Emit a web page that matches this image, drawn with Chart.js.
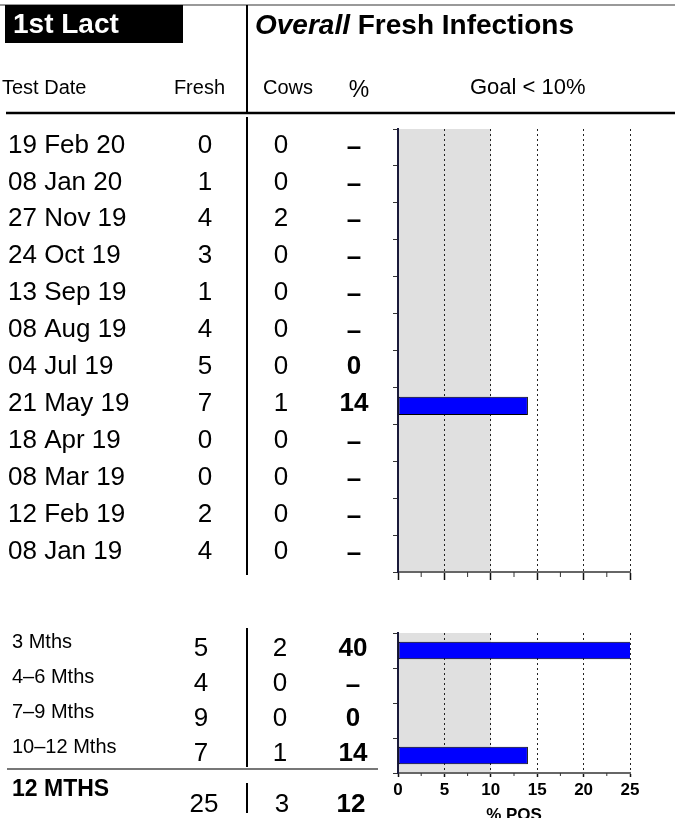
<!DOCTYPE html>
<html>
<head>
<meta charset="utf-8">
<script src="https://cdn.jsdelivr.net/npm/chart.js@4.4.1/dist/chart.umd.min.js"></script>
<style>
    body { margin: 0; background: #fff; overflow: hidden; width: 675px; height: 818px; position: relative; }
    canvas { position: absolute; left: 0; }
    #recentChart { top: 0; }
    #periodChart { top: 600px; }
</style>
</head>
<body>
<canvas id="recentChart" width="675" height="600"></canvas>
<canvas id="periodChart" width="675" height="240"></canvas>
<script>
// test dates (most recent first) and their counts
const testDates = ['19 Feb 20', '08 Jan 20', '27 Nov 19', '24 Oct 19', '13 Sep 19', '08 Aug 19',
    '04 Jul 19', '21 May 19', '18 Apr 19', '08 Mar 19', '12 Feb 19', '08 Jan 19'];
const freshCounts = [0, 1, 4, 3, 1, 4, 5, 7, 0, 0, 2, 4];
const infectedCows = [0, 0, 2, 0, 0, 0, 0, 1, 0, 0, 0, 0];
const pctPositive = [null, null, null, null, null, null, 0, 14, null, null, null, null];

// rolling periods
const periodLabels = ['3 Mths', '4–6 Mths', '7–9 Mths', '10–12 Mths'];
const periodFresh = [5, 4, 9, 7];
const periodCows = [2, 0, 0, 1];
const periodPct = [40, null, 0, 14];

const totalLabel = '12 MTHS';
const totalFresh = 25;
const totalCows = 3;
const totalPct = 12;

const goalPct = 10;
const axisMax = 25;
const axisStep = 5;

const FONT = '"Liberation Sans", Arial, sans-serif';
Chart.defaults.font.family = FONT;

function txt(ctx, s, x, y, font, align) {
    ctx.font = font + ' ' + FONT;
    ctx.textAlign = align || 'left';
    ctx.textBaseline = 'middle';
    ctx.fillStyle = '#000';
    ctx.fillText(s, x, y);
}

function line(ctx, x1, y1, x2, y2, color, width) {
    ctx.save();
    ctx.strokeStyle = color;
    ctx.lineWidth = width;
    ctx.beginPath();
    ctx.moveTo(x1, y1);
    ctx.lineTo(x2, y2);
    ctx.stroke();
    ctx.restore();
}

// shaded goal zone behind the grid
const goalBand = {
    id: 'goalBand',
    beforeDraw(chart) {
        const { ctx, chartArea, scales: { x } } = chart;
        const x0 = x.getPixelForValue(0);
        const x1 = x.getPixelForValue(goalPct);
        ctx.save();
        ctx.fillStyle = '#e0e0e0';
        ctx.fillRect(x0, chartArea.top, x1 - x0, chartArea.bottom - chartArea.top);
        ctx.restore();
    }
};

// small ticks half way between the labelled ones
const minorTicks = {
    id: 'minorTicks',
    afterDraw(chart, args, opts) {
        const { ctx, chartArea, scales: { x } } = chart;
        for (let v = axisStep / 2; v < axisMax; v += axisStep) {
            const px = x.getPixelForValue(v);
            line(ctx, px, chartArea.bottom, px, chartArea.bottom + opts.len, '#333', 1);
        }
    }
};

const recentTable = {
    id: 'recentTable',
    afterDraw(chart) {
        const { ctx, scales: { y } } = chart;
        // heading block
        line(ctx, 0, 5, 675, 5, '#999', 2);
        ctx.fillStyle = '#000';
        ctx.fillRect(5, 5, 178, 38);
        ctx.font = 'bold 28px ' + FONT;
        ctx.fillStyle = '#fff';
        ctx.textAlign = 'left';
        ctx.textBaseline = 'middle';
        ctx.fillText('1st Lact', 13, 25);
        line(ctx, 247, 5, 247, 113, '#000', 2);
        txt(ctx, 'Overall', 255, 26, 'italic bold 28px');
        const w = ctx.measureText('Overall ').width;
        txt(ctx, 'Fresh Infections', 255 + w, 26, 'bold 28px');

        txt(ctx, 'Test Date', 2, 88, '20px');
        txt(ctx, 'Fresh', 225, 88, '20px', 'right');
        txt(ctx, 'Cows', 263, 88, '20px');
        txt(ctx, '%', 359, 91, '23px', 'center');
        txt(ctx, 'Goal < ' + goalPct + '%', 470, 88, '22px');
        line(ctx, 6, 113, 675, 113, '#000', 2.5);
        line(ctx, 247, 117, 247, 575, '#000', 2);

        testDates.forEach((d, i) => {
            const cy = y.getPixelForValue(i) - 2;
            txt(ctx, d, 8, cy, '26px');
            txt(ctx, String(freshCounts[i]), 205, cy, '26px', 'center');
            txt(ctx, String(infectedCows[i]), 281, cy, '26px', 'center');
            const p = pctPositive[i];
            txt(ctx, p === null ? '–' : String(p), 354, p === null ? cy + 2 : cy, 'bold 26px', 'center');
        });
    }
};

const periodTable = {
    id: 'periodTable',
    afterDraw(chart) {
        const { ctx, scales: { y } } = chart;
        line(ctx, 247, 28, 247, 167, '#000', 2);
        line(ctx, 7, 169, 378, 169, '#777', 2);
        periodLabels.forEach((lbl, i) => {
            const cy = y.getPixelForValue(i);
            txt(ctx, lbl, 12, cy - 8, '20px');
            txt(ctx, String(periodFresh[i]), 201, cy - 2, '26px', 'center');
            txt(ctx, String(periodCows[i]), 280, cy - 2, '26px', 'center');
            const p = periodPct[i];
            txt(ctx, p === null ? '–' : String(p), 353, p === null ? cy : cy - 2, 'bold 26px', 'center');
        });
        txt(ctx, totalLabel, 12, 190, 'bold 23px');
        line(ctx, 247, 183, 247, 213, '#000', 2);
        txt(ctx, String(totalFresh), 204, 205, '26px', 'center');
        txt(ctx, String(totalCows), 282, 205, '26px', 'center');
        txt(ctx, String(totalPct), 351, 205, 'bold 26px', 'center');
    }
};

function barDataset(values) {
    return {
        data: values,
        backgroundColor: '#0000ff',
        borderColor: '#000',
        borderWidth: 1,
        borderSkipped: false,
        barPercentage: 0.5,
        categoryPercentage: 1
    };
}

function xScale(showLabels, tickLen, boxHeight) {
    return {
        min: 0,
        max: axisMax,
        ticks: {
            stepSize: axisStep,
            display: showLabels,
            color: '#000',
            padding: 3,
            font: { size: 17, weight: 'bold' }
        },
        grid: { color: '#222', lineWidth: 1, tickColor: '#111', tickLength: tickLen, tickWidth: 1.5 },
        border: { display: true, color: '#666', width: 2, dash: [2, 3] },
        title: {
            display: showLabels,
            text: '% POS',
            color: '#000',
            padding: 0,
            font: { size: 17, weight: 'bold' }
        },
        afterFit: s => { s.height = boxHeight; }
    };
}

const yScale = {
    ticks: { display: false },
    grid: { drawOnChartArea: false, tickLength: 5, color: '#333' },
    border: { color: '#1a1a3a', width: 2 },
    afterFit: s => { s.width = 5; }
};

new Chart(document.getElementById('recentChart'), {
    type: 'bar',
    data: { labels: testDates, datasets: [barDataset(pctPositive)] },
    options: {
        indexAxis: 'y',
        responsive: false,
        animation: false,
        layout: { padding: { left: 393, right: 45, top: 129, bottom: 18 } },
        plugins: { legend: { display: false }, tooltip: { enabled: false }, minorTicks: { len: 5 } },
        scales: { x: xScale(false, 8, 10), y: yScale }
    },
    plugins: [goalBand, minorTicks, recentTable]
});

new Chart(document.getElementById('periodChart'), {
    type: 'bar',
    data: { labels: periodLabels, datasets: [barDataset(periodPct)] },
    options: {
        indexAxis: 'y',
        responsive: false,
        animation: false,
        layout: { padding: { left: 393, right: 45, top: 33, bottom: 14 } },
        plugins: { legend: { display: false }, tooltip: { enabled: false }, minorTicks: { len: 3 } },
        scales: { x: xScale(true, 4, 53), y: yScale }
    },
    plugins: [goalBand, minorTicks, periodTable]
});
</script>
</body>
</html>
